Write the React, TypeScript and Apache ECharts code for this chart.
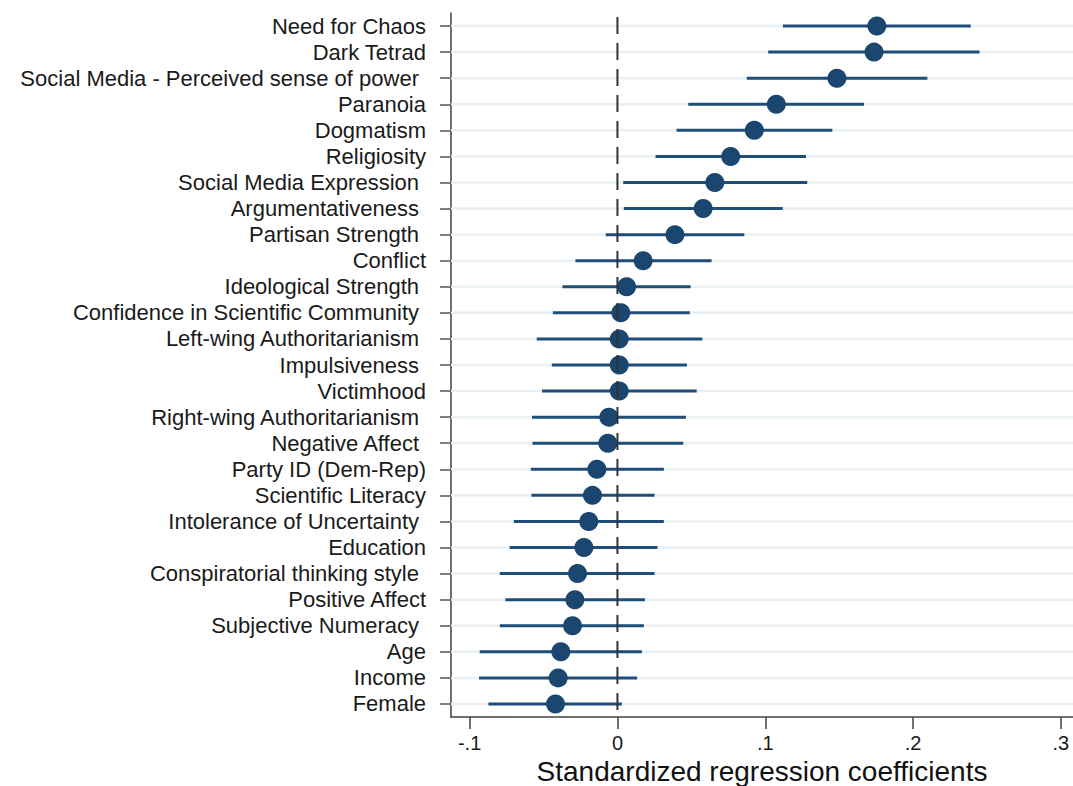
import React, { useEffect, useRef } from "react";
import * as echarts from "echarts";

const categories = [
  "Need for Chaos",
  "Dark Tetrad",
  "Social Media - Perceived sense of power",
  "Paranoia",
  "Dogmatism",
  "Religiosity",
  "Social Media Expression",
  "Argumentativeness",
  "Partisan Strength",
  "Conflict",
  "Ideological Strength",
  "Confidence in Scientific Community",
  "Left-wing Authoritarianism",
  "Impulsiveness",
  "Victimhood",
  "Right-wing Authoritarianism",
  "Negative Affect",
  "Party ID (Dem-Rep)",
  "Scientific Literacy",
  "Intolerance of Uncertainty",
  "Education",
  "Conspiratorial thinking style",
  "Positive Affect",
  "Subjective Numeracy",
  "Age",
  "Income",
  "Female",
];

// labels that carry a trailing space in the original
const paddedLabels = [
  "Social Media - Perceived sense of power",
  "Social Media Expression",
  "Argumentativeness",
  "Partisan Strength",
  "Ideological Strength",
  "Confidence in Scientific Community",
  "Left-wing Authoritarianism",
  "Impulsiveness",
  "Right-wing Authoritarianism",
  "Negative Affect",
  "Intolerance of Uncertainty",
  "Conspiratorial thinking style",
  "Subjective Numeracy",
];

const coefficients = [
  0.1755, 0.1736, 0.1485, 0.1075, 0.0926, 0.0766, 0.0659, 0.058, 0.0389,
  0.0174, 0.0062, 0.0023, 0.0012, 0.0012, 0.0012, -0.0058, -0.0065, -0.0139,
  -0.0169, -0.0194, -0.0227, -0.027, -0.0288, -0.0304, -0.0383, -0.0401,
  -0.0419,
];

const lowerCI = [
  0.112, 0.102, 0.0875, 0.0479, 0.04, 0.0258, 0.0039, 0.0043, -0.0079,
  -0.0284, -0.0372, -0.0437, -0.0546, -0.0444, -0.051, -0.0578, -0.0575,
  -0.0586, -0.0582, -0.0701, -0.0729, -0.0796, -0.0758, -0.0796, -0.0932,
  -0.0936, -0.0873,
];

const upperCI = [
  0.239, 0.245, 0.2097, 0.1668, 0.1454, 0.1276, 0.1284, 0.1118, 0.0858,
  0.0637, 0.0495, 0.049, 0.0574, 0.047, 0.0536, 0.0463, 0.0445, 0.0314,
  0.0251, 0.0314, 0.0271, 0.0251, 0.0186, 0.0179, 0.0165, 0.0133, 0.003,
];

const referenceLine = [0];

const xTickValues = [-0.1, 0, 0.1, 0.2, 0.3];
const xTickLabels = ["-.1", "0", ".1", ".2", ".3"];

const FONT = "'Liberation Sans', Arial, sans-serif";

export default function App() {
  const ref = useRef<HTMLDivElement>(null);

  useEffect(() => {
    if (!ref.current) return;
    const chart = echarts.init(ref.current, null, { renderer: "svg" });

    const barData = categories.map((c, i) => [lowerCI[i], upperCI[i], i]);
    const dotData = categories.map((c, i) => [coefficients[i], c]);

    chart.setOption({
      animation: false,
      backgroundColor: "#ffffff",
      textStyle: { fontFamily: FONT },
      grid: {
        left: 451,
        right: 0,
        top: 13,
        height: 704,
        containLabel: false,
        outerBoundsMode: "none",
      },
      xAxis: {
        type: "value",
        min: -0.1126,
        max: 0.3082,
        axisLine: { show: true, onZero: false, lineStyle: { color: "#404040", width: 1.5 } },
        axisTick: {
          show: true,
          customValues: xTickValues,
          length: 12,
          lineStyle: { color: "#404040", width: 1.5 },
        },
        axisLabel: {
          customValues: xTickValues,
          formatter: (v: number) => {
            const idx = xTickValues.findIndex((t) => Math.abs(t - v) < 1e-9);
            return idx >= 0 ? xTickLabels[idx] : "";
          },
          fontSize: 20,
          lineHeight: 20,
          color: "#1a1a1a",
          margin: 16,
          fontFamily: FONT,
        },
        splitLine: { show: false },
        name: "Standardized regression coefficients",
        nameLocation: "middle",
        nameGap: 40,
        nameMoveOverlap: false,
        nameTextStyle: { fontSize: 28, lineHeight: 28, color: "#111", fontFamily: FONT },
      },
      yAxis: {
        type: "category",
        inverse: true,
        data: categories,
        boundaryGap: true,
        axisLine: { show: true, onZero: false, lineStyle: { color: "#404040", width: 1.5 } },
        axisTick: {
          show: true,
          alignWithLabel: true,
          length: 11,
          lineStyle: { color: "#555", width: 1.5 },
        },
        axisLabel: {
          interval: 0,
          margin: 25,
          formatter: (v: string) =>
            paddedLabels.includes(v) ? `{p|${v}}` : `{n|${v}}`,
          rich: {
            p: { fontSize: 22, color: "#1a1a1a", fontFamily: FONT, padding: [0, 7, 0, 0] },
            n: { fontSize: 22, color: "#1a1a1a", fontFamily: FONT },
          },
        },
        splitLine: { show: false },
      },
      series: [
        {
          type: "custom",
          name: "CI",
          z: 2,
          encode: { x: [0, 1], y: 2 },
          data: barData,
          renderItem: (params: any, api: any) => {
            const lo = api.value(0);
            const hi = api.value(1);
            const idx = api.value(2);
            const p1 = api.coord([lo, idx]);
            const p2 = api.coord([hi, idx]);
            const cs = params.coordSys;
            return {
              type: "group",
              children: [
                {
                  type: "line",
                  shape: { x1: cs.x, y1: p1[1], x2: cs.x + cs.width, y2: p1[1] },
                  style: { stroke: "#e8f0f3", lineWidth: 2.5 },
                  silent: true,
                },
                {
                  type: "line",
                  shape: { x1: p1[0], y1: p1[1], x2: p2[0], y2: p2[1] },
                  style: { stroke: "#1f4e79", lineWidth: 3 },
                },
              ],
            };
          },
        },
        {
          type: "scatter",
          name: "Coefficient",
          z: 3,
          data: dotData,
          symbol: "circle",
          symbolSize: 19,
          itemStyle: { color: "#1a4670", opacity: 1 },
        },
        {
          type: "custom",
          name: "zero",
          z: 10,
          silent: true,
          encode: { x: 0 },
          data: referenceLine.map((v) => [v]),
          renderItem: (params: any, api: any) => {
            const cs = params.coordSys;
            const x = api.coord([api.value(0), 0])[0];
            return {
              type: "line",
              shape: { x1: x, y1: cs.y, x2: x, y2: cs.y + cs.height },
              style: {
                stroke: "#333333",
                lineWidth: 2,
                lineDash: [17, 9],
                lineDashOffset: -4,
              },
            };
          },
        },
      ],
    });

    return () => chart.dispose();
  }, []);

  return (
    <div
      ref={ref}
      style={{ position: "fixed", left: 0, top: 0, width: 1073, height: 786 }}
    />
  );
}
